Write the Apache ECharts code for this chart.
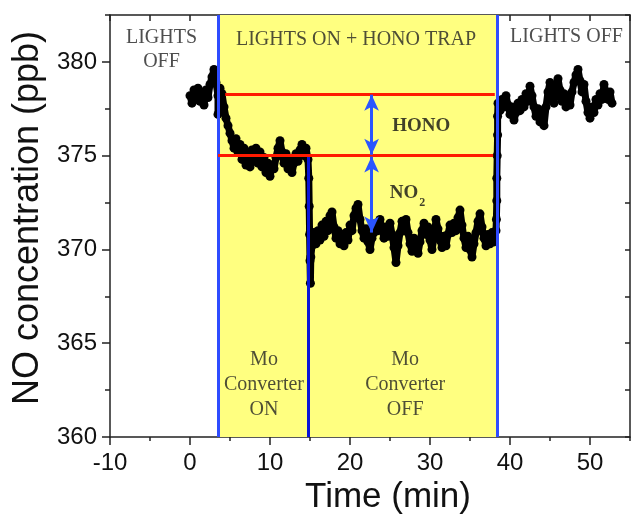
<!DOCTYPE html>
<html>
<head>
<meta charset="utf-8">
<script src="https://cdn.jsdelivr.net/npm/echarts@6/dist/echarts.min.js"></script>
<style>
    html, body {margin: 0; padding: 0; background: #fff;}
    #chart {width: 631px; height: 518px;}
</style>
</head>
<body>
<div id="chart"></div>
<script>
    // sampling step of the NO trace (min)
    const step = 0.25;

    // lights off, t = 0 .. 3.5
    const darkStart = 0;
    const darkValues = [378.2, 377.8, 378.5, 378.0, 378.6, 377.9, 378.3, 377.7, 378.5, 378.1,
        378.8, 379.2, 379.6, 378.9, 378.2];

    // lights on, Mo converter on, t = 3.5 .. 14.75
    const convOnStart = 3.5;
    const convOnValues = [377.2, 378.6, 378.3, 377.6, 377.0, 376.6, 376.2, 375.8, 375.4, 375.9,
        375.2, 375.6, 374.8, 375.4, 374.5, 375.1, 374.4, 375.3, 374.7, 375.4,
        374.6, 375.2, 374.4, 374.9, 374.1, 374.6, 373.9, 374.5, 374.3, 374.9,
        375.4, 375.8, 375.2, 374.6, 375.1, 374.3, 374.8, 374.1, 374.6, 375.1,
        374.7, 375.3, 375.6, 375.0, 375.4, 374.8];

    // switching the converter off
    const dropTimes = [14.85, 14.9, 14.95, 15.0, 15.05, 15.1];
    const dropValues = [373.8, 372.3, 370.8, 369.4, 368.2, 369.6];

    // lights on, Mo converter off, t = 15.25 .. 38.25
    const convOffStart = 15.25;
    const convOffValues = [370.2, 370.9, 370.3, 371.0, 370.5, 371.3, 370.7, 371.5, 371.0, 371.8,
        372.0, 371.2, 370.6, 371.0, 370.3, 370.8, 370.2, 370.9, 370.5, 371.3,
        371.0, 371.8, 372.2, 372.4, 371.6, 371.0, 370.6, 371.1, 370.4, 370.0,
        370.6, 370.9, 371.4, 371.0, 371.6, 371.1, 370.6, 371.2, 370.7, 371.4,
        370.8, 370.1, 369.3, 370.2, 370.9, 371.5, 371.0, 371.6, 370.9, 370.3,
        369.9, 370.6, 370.1, 369.8, 370.4, 371.0, 371.4, 370.8, 371.2, 370.5,
        370.0, 370.6, 371.6, 371.1, 370.5, 370.1, 370.7, 370.2, 370.8, 371.3,
        370.9, 371.4, 371.0, 371.7, 372.1, 371.3, 370.6, 370.1, 370.7, 370.0,
        369.6, 370.3, 370.9, 371.5, 371.9, 371.2, 370.6, 370.2, 370.8, 370.3,
        370.9, 370.4, 371.0];

    // lights switched off again
    const riseTimes = [38.3, 38.35, 38.35, 38.4, 38.45, 38.45];
    const riseValues = [371.6, 372.6, 373.8, 375.0, 376.1, 377.1];

    // lights off, t = 38.5 .. 52.75
    const afterStart = 38.5;
    const afterValues = [377.8, 377.4, 378.0, 377.6, 378.2, 377.7, 377.2, 377.6, 376.9, 377.3,
        377.8, 377.4, 378.0, 377.6, 378.3, 377.9, 378.7, 378.2, 377.6, 377.1,
        377.5, 376.8, 377.4, 376.6, 377.6, 378.4, 378.9, 378.2, 377.8, 378.6,
        379.1, 378.5, 377.9, 378.3, 377.6, 378.2, 377.7, 378.4, 378.9, 379.3,
        379.6, 379.0, 378.4, 378.8, 377.9, 377.3, 377.0, 377.6, 377.3, 378.0,
        377.7, 378.3, 378.0, 378.8, 378.4, 378.0, 378.4, 377.8];

    // events (min) and levels (ppb)
    const lightsOn = 3.5;
    const converterOff = 14.75;
    const lightsOff = 38.4;
    const levelTotal = 378.3;
    const levelNoHono = 375.0;
    const levelNo2 = 370.9;

    const xTicks = {min: -10, max: 55};
    const yTicks = {min: 360, max: 382.5};

    function segment(start, values) {
        return values.map((v, i) => [start + i * step, v]);
    }

    const points = [].concat(
        segment(darkStart, darkValues),
        segment(convOnStart, convOnValues),
        dropTimes.map((t, i) => [t, dropValues[i]]),
        segment(convOffStart, convOffValues),
        riseTimes.map((t, i) => [t, riseValues[i]]),
        segment(afterStart, afterValues)
    );

    const serif = '"Liberation Serif", "DejaVu Serif", serif';
    const sans = '"Liberation Sans", Arial, sans-serif';
    const frame = {show: true, onZero: false, lineStyle: {color: '#222', width: 1.5}};

    const myChart = echarts.init(document.getElementById('chart'), null, {renderer: 'canvas'});

    const option = {
        animation: false,
        backgroundColor: '#fff',
        grid: {left: 110, right: 1, top: 15, bottom: 81, containLabel: false, outerBoundsMode: 'none'},
        xAxis: [
            {
                type: 'value', position: 'bottom', min: xTicks.min, max: xTicks.max, interval: 10,
                axisLine: frame,
                axisTick: {show: true, inside: false, length: 8, lineStyle: {color: '#222', width: 1.5}},
                axisLabel: {show: true, margin: 14, fontSize: 24, color: '#111', fontFamily: sans, showMaxLabel: false},
                splitLine: {show: false},
                name: 'Time (min)', nameLocation: 'middle', nameGap: 42,
                nameTextStyle: {fontSize: 35, color: '#111', fontFamily: sans, padding: [0, 0, 0, 36]}
            },
            {
                type: 'value', position: 'bottom', min: xTicks.min, max: xTicks.max, interval: 5,
                axisLine: {show: false, onZero: false},
                axisTick: {show: true, inside: false, length: 4, lineStyle: {color: '#222', width: 1.5}},
                axisLabel: {show: false}, splitLine: {show: false}
            },
            {
                type: 'value', position: 'top', min: xTicks.min, max: xTicks.max, interval: 5,
                axisLine: frame,
                axisTick: {show: true, inside: true, length: 6, lineStyle: {color: '#222', width: 1.5}},
                axisLabel: {show: false}, splitLine: {show: false}
            }
        ],
        yAxis: [
            {
                type: 'value', position: 'left', min: yTicks.min, max: yTicks.max, interval: 5,
                axisLine: frame,
                axisTick: {show: true, inside: false, length: 8, lineStyle: {color: '#222', width: 1.5}},
                axisLabel: {show: true, margin: 13, fontSize: 24, color: '#111', fontFamily: sans, showMaxLabel: false},
                splitLine: {show: false},
                name: 'NO concentration (ppb)', nameLocation: 'middle', nameGap: 55,
                nameTextStyle: {fontSize: 36, color: '#111', fontFamily: sans, padding: [0, 0, 0, 16]}
            },
            {
                type: 'value', position: 'left', min: yTicks.min, max: yTicks.max, interval: 2.5,
                axisLine: {show: false, onZero: false},
                axisTick: {show: true, inside: false, length: 5, lineStyle: {color: '#222', width: 1.5}},
                axisLabel: {show: false}, splitLine: {show: false}
            },
            {
                type: 'value', position: 'right', min: yTicks.min, max: yTicks.max, interval: 2.5,
                axisLine: frame,
                axisTick: {show: true, inside: true, length: 5, lineStyle: {color: '#222', width: 1.5}},
                axisLabel: {show: false}, splitLine: {show: false}
            }
        ],
        series: [
            {
                // yellow "lights on" period
                type: 'scatter', data: [], z: 1, silent: true,
                markArea: {
                    silent: true,
                    itemStyle: {color: '#ffff80'},
                    data: [[{xAxis: lightsOn}, {xAxis: lightsOff}]]
                }
            },
            {
                name: 'NO',
                type: 'line',
                z: 2,
                showSymbol: true,
                symbol: 'circle',
                symbolSize: 9,
                itemStyle: {color: '#000', opacity: 1},
                lineStyle: {color: '#000', width: 7},
                data: points
            },
            {
                type: 'scatter', data: [], z: 3, silent: true,
                markLine: {
                    silent: true,
                    symbol: 'none',
                    label: {show: false},
                    emphasis: {disabled: true},
                    data: [
                        [{coord: [lightsOn, yTicks.min], lineStyle: {color: '#2f4cff', width: 3, type: 'solid'}},
                            {coord: [lightsOn, yTicks.max]}],
                        [{coord: [converterOff, yTicks.min], lineStyle: {color: '#0a14d8', width: 3, type: 'solid'}},
                            {coord: [converterOff, levelNoHono]}],
                        [{coord: [lightsOff, yTicks.min], lineStyle: {color: '#2f4cff', width: 3, type: 'solid'}},
                            {coord: [lightsOff, yTicks.max]}],
                        [{coord: [4.4, levelTotal], lineStyle: {color: '#ff1a00', width: 3, type: 'solid'}},
                            {coord: [38.1, levelTotal]}],
                        [{coord: [lightsOn, levelNoHono], lineStyle: {color: '#ff1a00', width: 3, type: 'solid'}},
                            {coord: [37.9, levelNoHono]}],
                        [{coord: [22.7, levelTotal - 0.05], symbol: 'arrow', symbolSize: [11, 16],
                            lineStyle: {color: '#2a55ff', width: 3, type: 'solid'}, itemStyle: {color: '#2a55ff'}},
                            {coord: [22.7, levelNoHono + 0.05], symbol: 'arrow', symbolSize: [11, 16]}],
                        [{coord: [22.7, levelNoHono - 0.05], symbol: 'arrow', symbolSize: [11, 16],
                            lineStyle: {color: '#2a55ff', width: 3, type: 'solid'}, itemStyle: {color: '#2a55ff'}},
                            {coord: [22.7, levelNo2], symbol: 'arrow', symbolSize: [11, 16]}]
                    ]
                }
            },
            {
                // annotations
                type: 'scatter', z: 4, silent: true,
                symbolSize: 0,
                itemStyle: {color: 'transparent'},
                label: {
                    show: true, position: 'inside', formatter: '{b}',
                    fontFamily: serif, fontSize: 20, color: '#222', lineHeight: 24
                },
                data: [
                    {name: 'LIGHTS\nOFF', value: [-3.56, 380.64]},
                    {name: 'LIGHTS ON + HONO TRAP', value: [20.75, 381.17]},
                    {name: 'LIGHTS OFF', value: [47.06, 381.33]},
                    {name: 'Mo\nConverter\nON', value: [9.25, 362.77], label: {lineHeight: 25}},
                    {name: 'Mo\nConverter\nOFF', value: [26.9, 362.77], label: {lineHeight: 25}},
                    {name: 'HONO', value: [28.9, 376.59], label: {fontWeight: 'bold', fontSize: 19, color: '#111'}},
                    {
                        name: 'NO2', value: [27.2, 373.0],
                        label: {
                            formatter: '{n|NO}{s|2}',
                            rich: {
                                n: {fontFamily: serif, fontWeight: 'bold', fontSize: 19, color: '#111'},
                                s: {fontFamily: serif, fontWeight: 'bold', fontSize: 12, color: '#111', padding: [20, 0, 0, 1]}
                            }
                        }
                    }
                ]
            }
        ]
    };

    myChart.clear();
    option && myChart.setOption(option);
</script>
</body>
</html>
